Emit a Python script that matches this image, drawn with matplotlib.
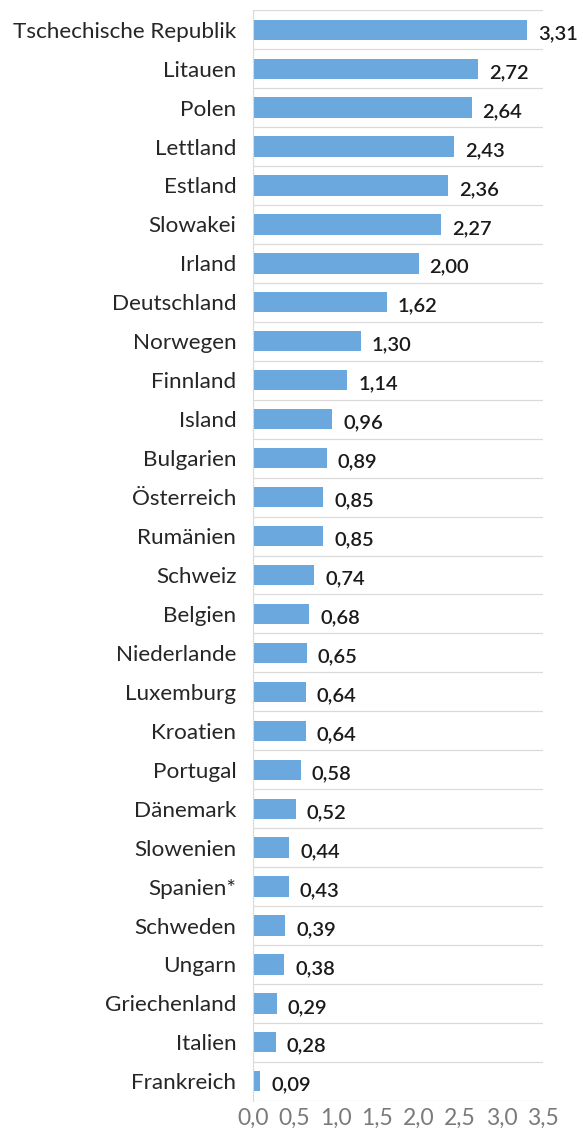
import matplotlib.pyplot as plt
import numpy as np

# data
countries = ["Tschechische Republik", "Litauen", "Polen", "Lettland", "Estland",
             "Slowakei", "Irland", "Deutschland", "Norwegen", "Finnland", "Island",
             "Bulgarien", "Österreich", "Rumänien", "Schweiz", "Belgien",
             "Niederlande", "Luxemburg", "Kroatien", "Portugal", "Dänemark",
             "Slowenien", "Spanien*", "Schweden", "Ungarn", "Griechenland",
             "Italien", "Frankreich"]
values = [3.31, 2.72, 2.64, 2.43, 2.36, 2.27, 2.00, 1.62, 1.30, 1.14, 0.96,
          0.89, 0.85, 0.85, 0.74, 0.68, 0.65, 0.64, 0.64, 0.58, 0.52, 0.44,
          0.43, 0.39, 0.38, 0.29, 0.28, 0.09]
xticks = [0.0, 0.5, 1.0, 1.5, 2.0, 2.5, 3.0, 3.5]

plt.rcParams['font.family'] = ['Lato', 'DejaVu Sans']

fig = plt.figure(figsize=(5.83, 11.36), dpi=100)
ax = fig.add_axes([0.434, 0.031, 0.497, 0.960])

y = np.arange(len(countries))
ax.barh(y, values, height=0.52, color="#6aa8de", zorder=2)

# separator lines between rows
for b in np.arange(-0.5, len(countries), 1.0):
    ax.axhline(b, color="#dadada", linewidth=0.9, zorder=1)

for yi, v in zip(y, values):
    ax.text(v + 0.13, yi + 0.1, f"{v:.2f}".replace(".", ","), va="center", ha="left",
            fontsize=14.5, fontweight="semibold", color="#1a1a1a")

ax.set_ylim(len(countries) - 0.5, -0.5)
ax.set_xlim(0, 3.5)
ax.set_yticks(y)
ax.set_yticklabels(countries, fontsize=16.2, color="#262626")
ax.set_xticks(xticks)
ax.set_xticklabels([f"{t:.1f}".replace(".", ",") for t in xticks], fontsize=16.5,
                   color="#7a7a7a")
ax.tick_params(axis="y", length=0, pad=12)
ax.tick_params(axis="x", length=0, pad=5)

for s in ["top", "right", "bottom"]:
    ax.spines[s].set_visible(False)
ax.spines["left"].set_color("#dadada")

fig.savefig("out.png", dpi=100)
